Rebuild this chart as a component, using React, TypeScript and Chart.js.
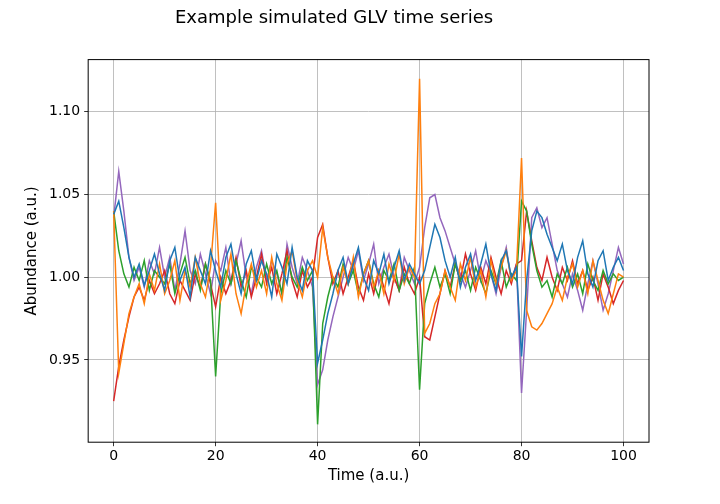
import React, { useRef, useEffect } from "react";
import { Chart, registerables } from "chart.js";

Chart.register(...registerables);

const times = Array.from({ length: 101 }, (_, i) => i);

const blue = [
  1.038, 1.046, 1.03, 1.012, 1.0, 1.008, 0.995, 1.004, 1.014, 1.002,
  0.992, 1.01, 1.018, 0.998, 1.006, 0.988, 1.012, 1.004, 0.996, 1.016,
  1.004, 0.994, 1.012, 1.02, 1.002, 0.99, 1.008, 1.016, 0.998, 1.01,
  1.002, 0.988, 1.014, 1.006, 0.996, 1.018, 1.0, 0.992, 1.01, 1.004,
  0.948, 0.962, 0.978, 0.99, 1.004, 1.012, 0.996, 1.008, 1.018, 1.0,
  0.992, 1.01, 1.002, 1.014, 0.996, 1.006, 1.016, 0.998, 1.008, 1.002,
  0.996, 1.004, 1.018, 1.032, 1.024, 1.01, 1.0, 1.012, 0.994, 1.006,
  1.014, 0.998, 1.008, 1.02, 1.002, 0.992, 1.01, 1.016, 1.0, 1.006,
  0.952, 0.998, 1.028, 1.04, 1.036, 1.026, 1.018, 1.01, 1.02, 1.004,
  0.996, 1.012, 1.022, 1.002, 0.994, 1.01, 1.016, 0.998, 1.006, 1.012,
  1.004,
];
const orange = [
  1.04, 0.942, 0.96, 0.978, 0.988, 0.996, 0.984, 1.002, 0.992, 1.008,
  0.99, 0.998, 1.01, 0.986, 1.004, 0.994, 1.012, 0.996, 0.988, 1.006,
  1.045, 0.986, 0.998, 1.014, 0.99, 0.978, 0.996, 1.008, 0.994, 1.004,
  0.99, 1.012, 0.996, 0.986, 1.008, 1.016, 0.998, 0.988, 1.004, 1.01,
  1.0, 1.03, 1.012, 1.0, 0.99, 1.006, 0.996, 1.012, 0.988, 1.002,
  1.01, 0.994, 1.004, 0.99, 1.008, 0.998, 1.014, 0.996, 1.006, 1.0,
  1.12, 0.966, 0.972, 0.984, 0.99, 1.004, 0.994, 0.986, 1.008, 0.998,
  1.012, 0.994, 1.004, 0.988, 1.01, 0.996, 1.006, 1.016, 0.998, 1.004,
  1.072, 0.98, 0.97, 0.968, 0.972, 0.978, 0.984, 0.994, 0.986, 1.0,
  1.008, 0.994, 1.004, 0.99, 1.01, 0.998, 0.986, 0.978, 0.99, 1.002,
  1.0,
];
const green = [
  1.04, 1.016, 1.002, 0.994, 1.006, 0.998, 1.01, 0.992, 1.004, 1.0,
  0.996, 1.008, 0.99, 1.002, 1.012, 0.996, 1.004, 0.992, 1.008, 0.998,
  0.94, 0.99, 1.004, 0.996, 1.01, 0.998, 0.988, 1.006, 1.0, 0.994,
  1.008, 0.996, 1.004, 0.99, 1.012, 1.0, 0.994, 1.006, 0.998, 1.004,
  0.911, 0.972, 0.988, 1.0, 0.994, 1.008, 0.996, 1.004, 0.99, 1.002,
  1.01, 0.996, 0.988, 1.004, 0.998, 1.008, 0.992, 1.002, 0.996, 1.006,
  0.932, 0.984, 0.996, 1.006, 0.994, 1.002, 0.99, 1.008, 0.998, 1.004,
  0.992, 1.006, 0.998, 0.99, 1.004, 0.996, 1.01, 0.994, 1.002, 0.998,
  1.046, 1.04, 1.02, 1.004, 0.994, 0.998, 0.988, 1.002, 0.996, 1.006,
  0.994, 1.002, 0.99, 1.008, 0.998, 0.992, 1.004, 0.996, 1.002, 0.998,
  1.0,
];
const red = [
  0.925, 0.946, 0.962, 0.976, 0.988, 0.994, 0.986, 0.998, 0.99, 0.996,
  1.004, 0.99, 0.984, 0.998, 0.992, 0.986, 1.002, 0.994, 1.008, 0.996,
  0.982, 1.0, 0.99, 0.998, 1.012, 0.994, 1.004, 0.988, 1.0, 1.014,
  0.996, 1.006, 0.99, 1.002, 1.016, 0.998, 0.988, 1.004, 0.994, 1.0,
  1.024, 1.032, 1.012, 0.996, 1.004, 0.99, 1.0, 1.01, 0.994, 0.986,
  1.002, 0.99, 1.004, 0.994, 0.984, 1.0, 0.992, 1.006, 0.996, 0.99,
  1.0, 0.964, 0.962, 0.976, 0.99, 1.004, 0.994, 1.008, 0.998, 1.014,
  1.002, 0.992, 1.006, 0.996, 1.012, 1.0, 0.99, 1.004, 0.996, 1.008,
  1.01, 1.04, 1.022, 1.006, 0.998, 1.012, 1.0, 0.992, 1.006, 0.998,
  1.01, 0.996, 1.004, 0.992, 1.0, 0.986, 1.002, 0.994, 0.984, 0.992,
  0.998,
];
const purple = [
  1.036, 1.064, 1.04, 1.012, 0.998, 1.006, 0.994, 1.01, 1.002, 1.018,
  1.0, 1.012, 0.992, 1.008, 1.028, 1.004, 0.996, 1.014, 1.002, 0.99,
  1.01, 1.004, 1.018, 0.996, 1.008, 1.022, 1.0, 0.99, 1.006, 1.016,
  0.998, 1.01, 1.002, 0.99, 1.02, 1.006, 0.996, 1.012, 1.004, 0.994,
  0.935, 0.944, 0.962, 0.976, 0.988, 1.0, 1.012, 1.004, 1.016, 0.998,
  1.008, 1.02, 0.996, 1.006, 1.014, 1.0, 0.992, 1.012, 1.004, 0.996,
  1.006, 1.03, 1.048, 1.05, 1.036, 1.028, 1.018, 1.008, 1.002, 0.994,
  1.004, 1.016, 0.998, 1.01, 1.002, 0.99, 1.006, 1.018, 0.998, 1.008,
  0.93, 0.98, 1.036, 1.042, 1.03, 1.036, 1.02, 1.004, 0.996, 0.988,
  1.002, 0.992, 0.98, 0.996, 1.01, 0.996, 0.98, 0.99, 1.004, 1.018,
  1.008,
];

const xTicks = [0, 20, 40, 60, 80, 100];
const yTicks = [0.95, 1.0, 1.05, 1.1];

const series = [
  { data: blue, color: "#1f77b4" },
  { data: orange, color: "#ff7f0e" },
  { data: green, color: "#2ca02c" },
  { data: red, color: "#d62728" },
  { data: purple, color: "#9467bd" },
];

const frame = {
  id: "frame",
  afterDraw(chart: any) {
    const { ctx, chartArea: a } = chart;
    ctx.save();
    ctx.strokeStyle = "#000";
    ctx.lineWidth = 1;
    ctx.strokeRect(a.left, a.top, a.right - a.left, a.bottom - a.top);
    ctx.restore();
  },
};

export default function App() {
  const ref = useRef<HTMLCanvasElement>(null);

  useEffect(() => {
    const ctx = ref.current?.getContext("2d");
    if (!ctx) return;
    const font = "'DejaVu Sans', sans-serif";
    const chart = new Chart(ctx, {
      type: "line",
      data: {
        datasets: series.map((s) => ({
          data: times.map((t, i) => ({ x: t, y: s.data[i] })),
          borderColor: s.color,
          borderWidth: 1.5,
          pointRadius: 0,
          tension: 0,
        })),
      },
      options: {
        animation: false,
        responsive: false,
        layout: { padding: { left: 19, right: 71, top: 0, bottom: 15 } },
        plugins: {
          legend: { display: false },
          tooltip: { enabled: false },
          title: {
            display: true,
            text: "Example simulated GLV time series",
            color: "#000",
            font: { family: font, size: 18, weight: "normal" },
            padding: { top: 8, bottom: 30 },
          },
        },
        scales: {
          x: {
            type: "linear",
            min: -5,
            max: 105,
            afterBuildTicks: (ax: any) => {
              ax.ticks = xTicks.map((v) => ({ value: v }));
            },
            grid: { color: "#b0b0b0", lineWidth: 0.8, tickColor: "#000", tickLength: 4 },
            border: { display: false },
            ticks: { color: "#000", font: { family: font, size: 14 }, padding: 2, maxRotation: 0 },
            title: {
              display: true,
              text: "Time (a.u.)",
              color: "#000",
              font: { family: font, size: 15 },
              padding: { top: 0 },
            },
          },
          y: {
            type: "linear",
            min: 0.9002,
            max: 1.1316,
            afterBuildTicks: (ax: any) => {
              ax.ticks = yTicks.map((v) => ({ value: v }));
            },
            grid: { color: "#b0b0b0", lineWidth: 0.8, tickColor: "#000", tickLength: 4 },
            border: { display: false },
            ticks: {
              color: "#000",
              font: { family: font, size: 14 },
              padding: 4,
              callback: (v: any) => Number(v).toFixed(2),
            },
            title: {
              display: true,
              text: "Abundance (a.u.)",
              color: "#000",
              font: { family: font, size: 15 },
              padding: { bottom: 4 },
            },
          },
        },
      },
      plugins: [frame],
    });
    return () => chart.destroy();
  }, []);

  return (
    <div style={{ position: "fixed", left: 0, top: 0, width: 720, height: 504, background: "#fff" }}>
      <canvas ref={ref} width={720} height={504} />
    </div>
  );
}
